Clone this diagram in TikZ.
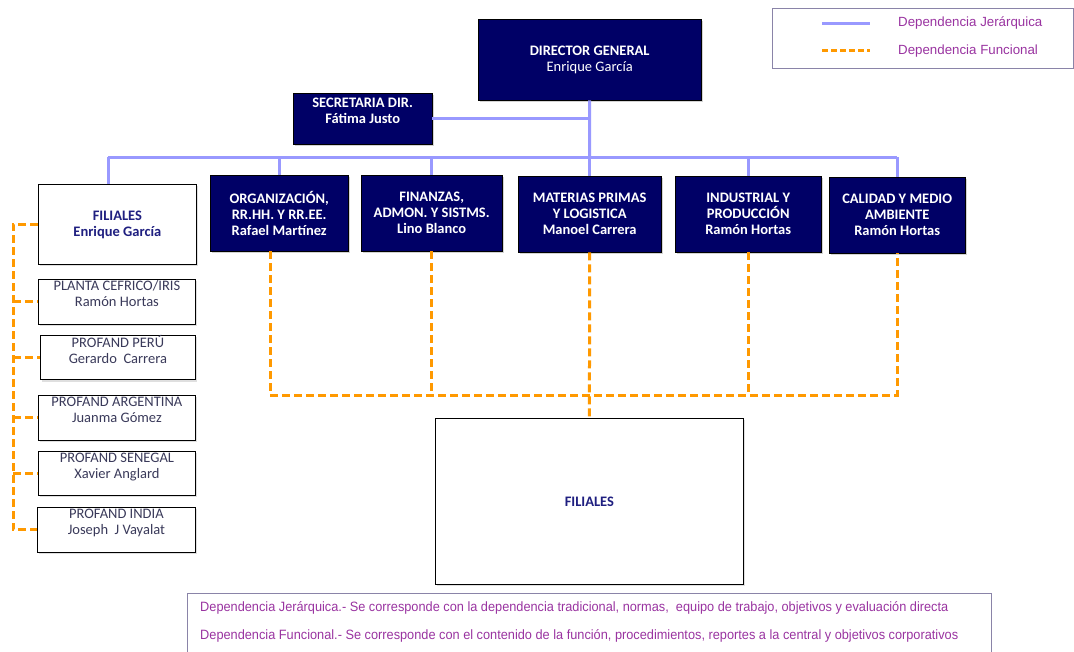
\documentclass[tikz,border=0pt]{standalone}
\usepackage{fontspec}
\setmainfont{Carlito}
\newfontfamily\legfont{Liberation Sans}
\newfontfamily\narrowfont[FakeStretch=0.945]{Liberation Sans}
\usetikzlibrary{shadows}
\definecolor{navy}{HTML}{000066}
\definecolor{hier}{HTML}{9999FF}
\definecolor{func}{HTML}{FF9900}
\definecolor{legtxt}{HTML}{9933A0}
\definecolor{filtxt}{HTML}{1F1F80}
\definecolor{smalltxt}{HTML}{3A3A5A}
\definecolor{framec}{HTML}{8A84A8}
\tikzset{
  deptbox/.style={draw=black, fill=navy, text=white, anchor=north west, inner sep=0pt,
    font=\bfseries\fontsize{14.5}{16}\selectfont, align=center,
    drop shadow={opacity=0.35, shadow xshift=2pt, shadow yshift=-2pt}},
  whitebox/.style={draw=black, fill=white, anchor=north west, inner sep=0pt, align=center,
    line width=0.8pt, drop shadow={opacity=0.25, shadow xshift=2pt, shadow yshift=-2pt}},
  smallbox/.style={whitebox, text=smalltxt, font=\fontsize{14.5}{16}\selectfont},
  hierline/.style={hier, line width=3pt},
  funcline/.style={func, line width=3pt, dash pattern=on 8pt off 4pt},
}
\begin{document}
\begin{tikzpicture}[x=1pt,y=-1pt]
\useasboundingbox (0,0) rectangle (1074,651);

% legend
\node[draw=framec, line width=0.8pt, anchor=north west, minimum width=301pt, minimum height=60pt, inner sep=0pt] (leg) at (772,8) {};
\coordinate (lh1) at (822,23); \coordinate (lh2) at (870,23);
\coordinate (lf1) at (822,50); \coordinate (lf2) at (870,50);
\draw[hierline] (lh1) -- (lh2);
\draw[func, line width=3pt, dash pattern=on 6pt off 3pt] (lf1) -- (lf2);
\node[anchor=west, text=legtxt, font=\legfont\fontsize{13.3}{15}\selectfont, inner sep=0pt] (lt1) at (898,23) {Dependencia Jerárquica};
\node[anchor=west, text=legtxt, font=\legfont\fontsize{13.3}{15}\selectfont, inner sep=0pt] (lt2) at (898,51) {Dependencia Funcional};

% top
\node[deptbox, minimum width=223pt, minimum height=81pt] (dg) at (478,19) {DIRECTOR GENERAL\\\mdseries Enrique García};
\node[deptbox, minimum width=139pt, minimum height=51pt] (sec) at (293,93) {SECRETARIA DIR.\\Fátima Justo\\\mbox{}};

% departments
\node[deptbox, minimum width=138pt, minimum height=76pt] (org) at (210,175) {ORGANIZACIÓN,\\RR.HH. Y RR.EE.\\Rafael Martínez};
\node[deptbox, minimum width=141pt, minimum height=76pt] (fin) at (361,175) {FINANZAS,\\ADMON. Y SISTMS.\\Lino Blanco};
\node[deptbox, minimum width=143pt, minimum height=76pt] (mat) at (518,176) {MATERIAS PRIMAS\\Y LOGISTICA\\Manoel Carrera};
\node[deptbox, minimum width=146pt, minimum height=76pt] (ind) at (675,176) {INDUSTRIAL Y\\PRODUCCIÓN\\Ramón Hortas};
\node[deptbox, minimum width=136pt, minimum height=76pt] (cal) at (829,177) {CALIDAD Y MEDIO\\AMBIENTE\\Ramón Hortas};

% left filiales
\node[whitebox, text=filtxt, font=\bfseries\fontsize{14.5}{16}\selectfont, minimum width=158pt, minimum height=80pt] (fil) at (38,184) {FILIALES\\Enrique García};
\node[smallbox, minimum width=157pt, minimum height=45pt] (pla) at (38,279) {PLANTA CEFRICO/IRIS\\Ramón Hortas\\\mbox{}};
\node[smallbox, minimum width=155pt, minimum height=44pt] (per) at (40,335) {PROFAND PERÚ\\Gerardo\ \ Carrera\\\mbox{}};
\node[smallbox, minimum width=157pt, minimum height=45pt] (arg) at (38,395) {PROFAND ARGENTINA\\Juanma Gómez\\\mbox{}};
\node[smallbox, minimum width=157pt, minimum height=44pt] (sen) at (38,451) {PROFAND SENEGAL\\Xavier Anglard\\\mbox{}};
\node[smallbox, minimum width=158pt, minimum height=45pt] (ind2) at (37,507) {PROFAND INDIA\\Joseph\ \ J Vayalat\\\mbox{}};

% big filiales
\node[whitebox, text=filtxt, font=\bfseries\fontsize{14.5}{16}\selectfont, minimum width=308pt, minimum height=166pt] (big) at (435,418) {FILIALES};

% note box
\node[draw=framec, line width=0.8pt, anchor=north west, minimum width=804pt, minimum height=70pt, inner sep=0pt] (note) at (187,593) {};
\node[anchor=west, text=legtxt, font=\narrowfont\fontsize{13.5}{15}\selectfont, inner sep=0pt] (n1) at (200,608) {Dependencia Jerárquica.- Se corresponde con la dependencia tradicional, normas,\ \ equipo de trabajo, objetivos y evaluación directa};
\node[anchor=west, text=legtxt, font=\narrowfont\fontsize{13.5}{15}\selectfont, inner sep=0pt] (n2) at (200,636) {Dependencia Funcional.- Se corresponde con el contenido de la función, procedimientos, reportes a la central y objetivos corporativos};

% hierarchical lines
\coordinate (d1) at (589.5,157);
\coordinate (bl) at (108,157);
\coordinate (br) at (897,157);
\draw[hierline] (dg.south) -- (d1);
\draw[hierline] (sec.east) -- (sec.east -| d1);
\draw[hierline] (bl) -- (br);
\draw[hierline] (bl) -- (bl |- fil.north);
\draw[hierline] (org.north) -- (org.north |- bl);
\draw[hierline] (fin.north) -- (fin.north |- bl);
\draw[hierline] (mat.north) -- (mat.north |- bl);
\draw[hierline] (ind.north) -- (ind.north |- bl);
\draw[hierline] (cal.north) -- (cal.north |- bl);

% functional lines
\coordinate (fl) at (270,395);
\coordinate (fr) at (897,395);
\draw[funcline] (fl |- org.south) -- (fl) -- (fr) -- (fr |- cal.south);
\draw[funcline] (fin.south) -- (fin.south |- fl);
\draw[funcline] (ind.south) -- (ind.south |- fl);
\draw[funcline] (mat.south) -- (big.north);

\coordinate (vx) at (13,222);
\draw[funcline] (fil.west) -- (fil.west -| vx) -- (vx |- ind2.west) -- (ind2.west);
\draw[funcline] (vx |- pla.west) -- (pla.west);
\draw[funcline] (vx |- per.west) -- (per.west);
\draw[funcline] (vx |- arg.west) -- (arg.west);
\draw[funcline] (vx |- sen.west) -- (sen.west);
\end{tikzpicture}
\end{document}
